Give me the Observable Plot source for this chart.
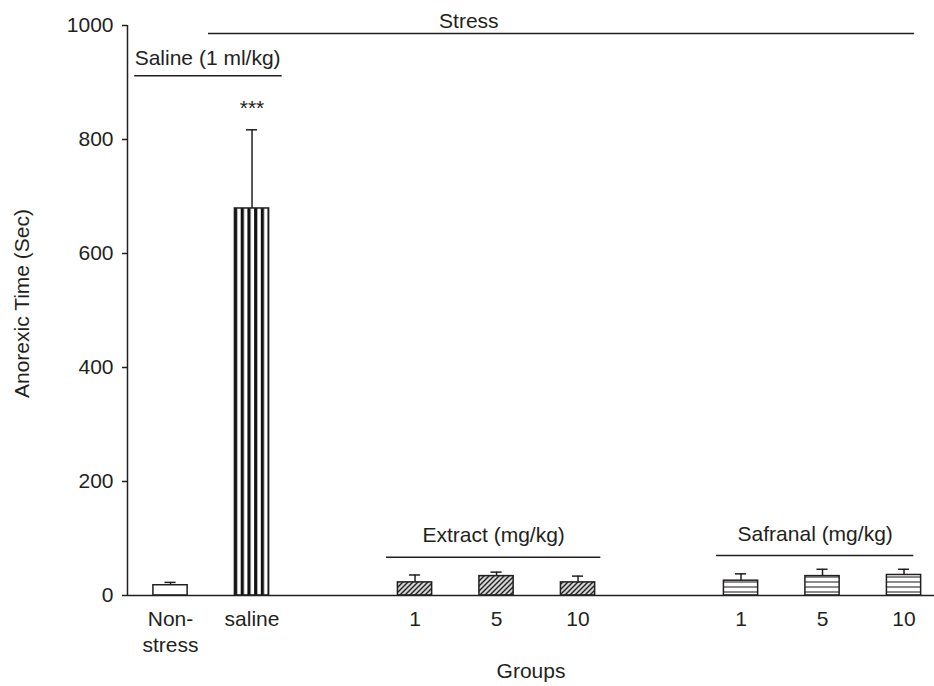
<!DOCTYPE html>
<html>
<head>
<meta charset="utf-8">
<script src="https://cdn.jsdelivr.net/npm/d3@7"></script>
<script src="https://cdn.jsdelivr.net/npm/@observablehq/plot@0.6"></script>
<style>
  html, body { margin: 0; padding: 0; background: #fff; }
</style>
</head>
<body>
<div id="chart"></div>
<script>
// ---- data ----
const groupLabels = ["Non-\nstress", "saline", "1", "5", "10", "1", "5", "10"];
const groupSlots  = [0, 1, 3, 4, 5, 7, 8, 9];
const treatments  = ["nonstress", "saline", "extract", "extract", "extract", "safranal", "safranal", "safranal"];
const meanValues  = [18, 679, 23, 34, 23, 26, 34, 36];
const upperValues = [23, 817, 36, 41, 34, 38, 46, 46];
const significance = ["", "***", "", "", "", "", "", ""];
const yTicks = [0, 200, 400, 600, 800, 1000];

const bracketLabels = ["Stress", "Saline (1 ml/kg)", "Extract (mg/kg)", "Safranal (mg/kg)"];
const bracketStart  = [0.466, -0.44, 2.65, 6.70];
const bracketEnd    = [9.13, 1.37, 5.28, 9.12];
const bracketLineY  = [986, 912, 67, 70];
const bracketTextX  = [3.66, -0.44, 3.965, 7.91];
const bracketTextY  = [996, 930, 93, 96];
const bracketAnchor = ["middle", "start", "middle", "middle"];

// ---- tables ----
const bars = groupLabels.map((g, i) => ({
  label: g, slot: groupSlots[i], treatment: treatments[i],
  mean: meanValues[i], upper: upperValues[i], sig: significance[i]
}));
const brackets = bracketLabels.map((l, i) => ({
  label: l, x1: bracketStart[i], x2: bracketEnd[i], yLine: bracketLineY[i],
  tx: bracketTextX[i], ty: bracketTextY[i], anchor: bracketAnchor[i]
}));

const patternOf = {
  nonstress: "white",
  saline: "url(#pat-vstripe)",
  extract: "url(#pat-diag)",
  safranal: "url(#pat-hstripe)"
};

const ink = "#231f20";
const fs = 21;
const halfBar = 0.21;
const halfCap = 0.068;
const xDomain = [-0.528, 9.374];

const chart = Plot.plot({
  width: 934,
  height: 686,
  marginLeft: 127,
  marginRight: 0,
  marginTop: 25,
  marginBottom: 91,
  x: {type: "linear", domain: xDomain, axis: null},
  y: {domain: [0, 1000], axis: null},
  color: {type: "identity"},
  style: {fontFamily: "'Liberation Sans', Arial, Helvetica, sans-serif", fontSize: fs + "px", color: ink, background: "white"},
  marks: [
    // bars
    Plot.rectY(bars, {
      x1: d => d.slot - halfBar, x2: d => d.slot + halfBar,
      y1: 0, y2: "mean",
      fill: d => patternOf[d.treatment],
      stroke: ink, strokeWidth: 1.5
    }),
    // error bars
    Plot.ruleX(bars, {x: "slot", y1: "mean", y2: "upper", stroke: ink, strokeWidth: 1.5}),
    Plot.ruleY(bars, {y: "upper", x1: d => d.slot - halfCap, x2: d => d.slot + halfCap, stroke: ink, strokeWidth: 1.5}),
    // significance
    Plot.text(bars, {x: "slot", y: "upper", text: "sig", dy: -15, lineAnchor: "bottom", fontSize: fs, fill: ink}),
    // axes
    Plot.ruleY([0], {stroke: ink, strokeWidth: 1.5}),
    Plot.ruleX([xDomain[0]], {stroke: ink, strokeWidth: 1.5}),
    Plot.axisY(yTicks, {tickSize: 5, tickPadding: 9, fontSize: fs, label: null, tickFormat: d => String(d), stroke: ink, strokeWidth: 1.5}),
    Plot.text(bars, {x: "slot", y: 0, text: "label", dy: 13, lineAnchor: "top", lineHeight: 1.2, fontSize: fs, fill: ink}),
    // axis titles
    Plot.text(["Anorexic Time (Sec)"], {frameAnchor: "left", textAnchor: "middle", dx: -105, dy: -7, rotate: -90, fontSize: fs, fill: ink}),
    Plot.text(["Groups"], {frameAnchor: "bottom", textAnchor: "middle", dy: 82, lineAnchor: "bottom", fontSize: fs, fill: ink}),
    // brackets
    Plot.ruleY(brackets, {y: "yLine", x1: "x1", x2: "x2", stroke: ink, strokeWidth: 1.5}),
    Plot.text(brackets.filter(d => d.anchor === "middle"), {x: "tx", y: "ty", text: "label", textAnchor: "middle", lineAnchor: "bottom", fontSize: fs, fill: ink}),
    Plot.text(brackets.filter(d => d.anchor === "start"), {x: "tx", y: "ty", text: "label", textAnchor: "start", lineAnchor: "bottom", fontSize: fs, fill: ink})
  ]
});

// pattern definitions
const ns = "http://www.w3.org/2000/svg";
function el(name, attrs, parent) {
  const e = document.createElementNS(ns, name);
  for (const k in attrs) e.setAttribute(k, attrs[k]);
  if (parent) parent.appendChild(e);
  return e;
}
const defs = el("defs", {});
// vertical stripes
const pv = el("pattern", {id: "pat-vstripe", patternUnits: "userSpaceOnUse", width: 6.7, height: 10, x: 234}, defs);
el("rect", {x: 0, y: 0, width: 6.7, height: 10, fill: "white"}, pv);
el("rect", {x: 0, y: 0, width: 3.2, height: 10, fill: "#111"}, pv);
// diagonal hatching
const pd = el("pattern", {id: "pat-diag", patternUnits: "userSpaceOnUse", width: 5, height: 5}, defs);
el("rect", {x: 0, y: 0, width: 5, height: 5, fill: "#d4d4d4"}, pd);
el("path", {d: "M-1,6 L6,-1 M-1,1 L1,-1 M4,6 L6,4", stroke: "#222", "stroke-width": 1.4}, pd);
// horizontal stripes
const ph = el("pattern", {id: "pat-hstripe", patternUnits: "userSpaceOnUse", width: 10, height: 5, y: 1}, defs);
el("rect", {x: 0, y: 0, width: 10, height: 5, fill: "white"}, ph);
el("rect", {x: 0, y: 0, width: 10, height: 2, fill: "#8a8a8a"}, ph);

chart.insertBefore(defs, chart.firstChild);
document.getElementById("chart").appendChild(chart);
</script>
</body>
</html>
